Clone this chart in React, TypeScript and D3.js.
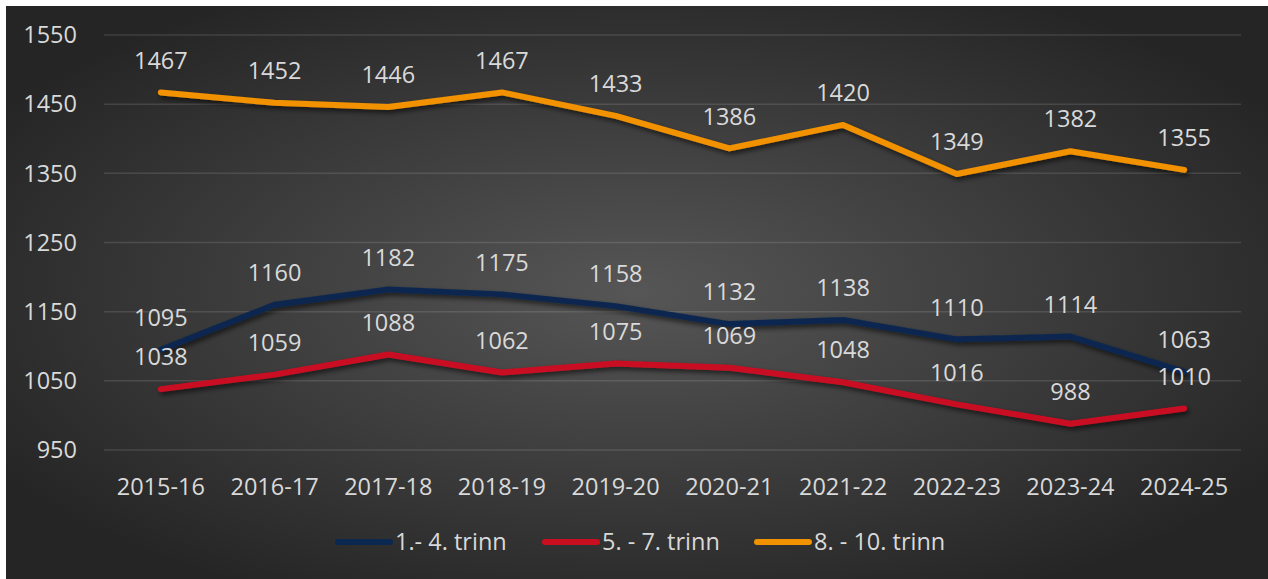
import React, { useEffect, useRef } from 'react';
import { select, scalePoint, scaleLinear, line } from 'd3';

const seasons = ['2015-16', '2016-17', '2017-18', '2018-19', '2019-20', '2020-21', '2021-22', '2022-23', '2023-24', '2024-25'];
const trinn1to4 = [1095, 1160, 1182, 1175, 1158, 1132, 1138, 1110, 1114, 1063];
const trinn5to7 = [1038, 1059, 1088, 1062, 1075, 1069, 1048, 1016, 988, 1010];
const trinn8to10 = [1467, 1452, 1446, 1467, 1433, 1386, 1420, 1349, 1382, 1355];
const yTicks = [950, 1050, 1150, 1250, 1350, 1450, 1550];

const series = [
  { name: '1.- 4. trinn', values: trinn1to4, color: '#0b2850' },
  { name: '5. - 7. trinn', values: trinn5to7, color: '#c90e20' },
  { name: '8. - 10. trinn', values: trinn8to10, color: '#f29200' },
];

const W = 1268;
const H = 579;
const FONT = '"Open Sans", "Noto Sans", sans-serif';
const TEXT = '#d9d9d9';
const FS = 23.5;

export default function App() {
  const svgRef = useRef<SVGSVGElement>(null);

  useEffect(() => {
    if (!svgRef.current) return;
    const svg = select(svgRef.current);
    svg.selectAll('*').remove();

    const defs = svg.append('defs');
    const grad = defs.append('radialGradient')
      .attr('id', 'bg')
      .attr('cx', '50%').attr('cy', '50%').attr('r', '60%');
    grad.append('stop').attr('offset', '0%').attr('stop-color', '#565656');
    grad.append('stop').attr('offset', '100%').attr('stop-color', '#252525');

    const shadow = defs.append('filter').attr('id', 'shadow')
      .attr('x', '-10%').attr('y', '-10%').attr('width', '120%').attr('height', '140%');
    shadow.append('feDropShadow')
      .attr('dx', 2).attr('dy', 3).attr('stdDeviation', 2.5)
      .attr('flood-color', '#000').attr('flood-opacity', 0.6);

    svg.append('rect').attr('width', W).attr('height', H).attr('fill', '#fff');
    svg.append('rect').attr('x', 6).attr('y', 6).attr('width', W - 6).attr('height', H - 6).attr('fill', 'url(#bg)');

    const left = 104, right = 1241;
    const x = scalePoint<string>().domain(seasons).range([left, right]).padding(0.5);
    const y = scaleLinear().domain([950, 1550]).range([450, 35]);

    const grid = svg.append('g');
    grid.selectAll('line').data(yTicks).enter().append('line')
      .attr('x1', left).attr('x2', right)
      .attr('y1', d => y(d)).attr('y2', d => y(d))
      .attr('stroke', '#d9d9d9').attr('stroke-opacity', 0.15).attr('stroke-width', 1.5);

    svg.append('g').selectAll('text').data(yTicks).enter().append('text')
      .attr('x', 77).attr('y', d => y(d)).attr('dy', '0.35em')
      .attr('text-anchor', 'end')
      .attr('font-family', FONT).attr('font-size', FS).attr('fill', TEXT)
      .text(d => d);

    svg.append('g').selectAll('text').data(seasons).enter().append('text')
      .attr('x', d => x(d) as number).attr('y', 487).attr('dy', '0.35em')
      .attr('text-anchor', 'middle')
      .attr('font-family', FONT).attr('font-size', FS).attr('fill', TEXT)
      .text(d => d);

    const lineGen = line<number>()
      .x((_, i) => x(seasons[i]) as number)
      .y(d => y(d));

    series.forEach(s => {
      svg.append('path')
        .attr('d', lineGen(s.values) || '')
        .attr('fill', 'none')
        .attr('stroke', s.color)
        .attr('stroke-width', 6)
        .attr('stroke-linecap', 'round')
        .attr('stroke-linejoin', 'round')
        .attr('filter', 'url(#shadow)');
    });

    series.forEach(s => {
      svg.append('g').selectAll('text').data(s.values).enter().append('text')
        .attr('x', (_, i) => x(seasons[i]) as number)
        .attr('y', d => y(d) - 32).attr('dy', '0.35em')
        .attr('text-anchor', 'middle')
        .attr('font-family', FONT).attr('font-size', FS).attr('fill', TEXT)
        .text(d => d);
    });

    // legend
    const legendX = [335, 542, 754];
    const legend = svg.append('g');
    series.forEach((s, i) => {
      legend.append('line')
        .attr('x1', legendX[i] + 3).attr('x2', legendX[i] + 55)
        .attr('y1', 542).attr('y2', 542)
        .attr('stroke', s.color).attr('stroke-width', 6).attr('stroke-linecap', 'round');
      legend.append('text')
        .attr('x', legendX[i] + 60).attr('y', 542).attr('dy', '0.35em')
        .attr('font-family', FONT).attr('font-size', FS).attr('fill', TEXT)
        .text(s.name);
    });
  }, []);

  return <svg ref={svgRef} width={W} height={H} style={{ position: 'absolute', left: 0, top: 0, display: 'block' }} />;
}
